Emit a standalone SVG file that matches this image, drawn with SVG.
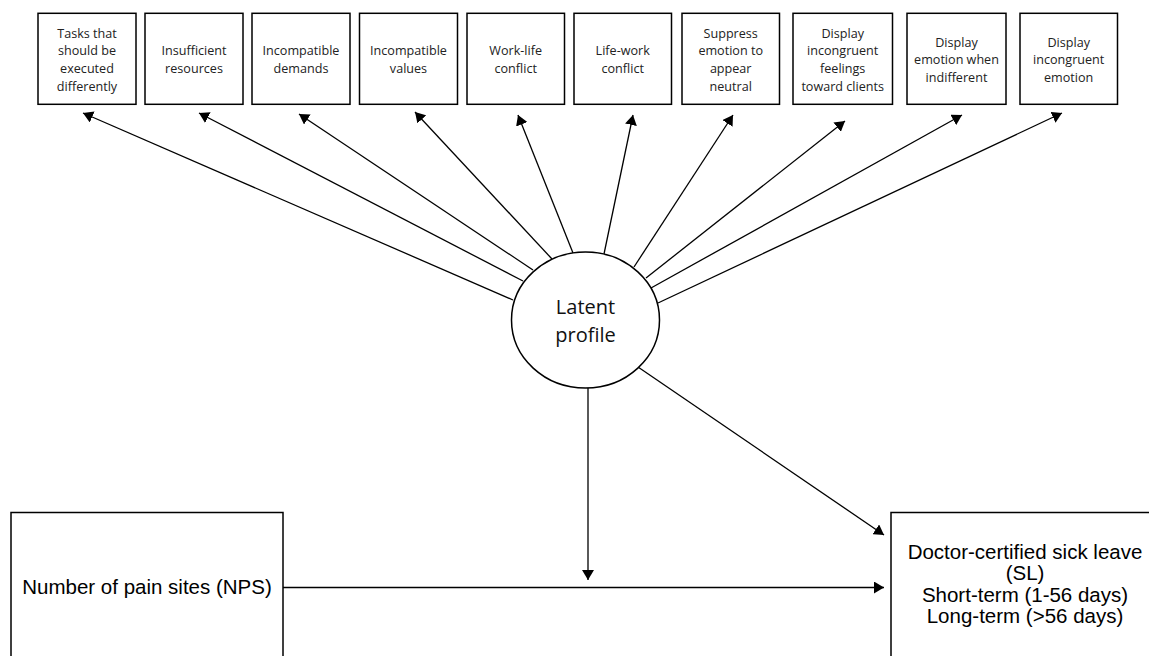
<svg xmlns="http://www.w3.org/2000/svg" width="1149" height="656" viewBox="0 0 1149 656">
<style>
.box{fill:#fff;stroke:#000;stroke-width:1.5}
.t{font-family:"Open Sans","Liberation Sans",sans-serif;font-size:12.6px;fill:#222;text-anchor:middle}
.lp{font-family:"Open Sans","Liberation Sans",sans-serif;font-size:20px;fill:#111;text-anchor:middle}
.bt{font-family:"Liberation Sans",Arial,sans-serif;font-size:20.5px;fill:#000;text-anchor:middle}
.c{stroke:#000;stroke-width:1.3;fill:none;marker-end:url(#ah)}
</style>
<defs>
<marker id="ah" markerUnits="userSpaceOnUse" viewBox="0 0 10 12" markerWidth="10" markerHeight="12" refX="10" refY="6" orient="auto">
<path d="M0,0 L10,6 L0,12 z" fill="#000"/>
</marker>
</defs>
<rect width="1149" height="656" fill="#fff"/>
<g id="connectors">
<line class="c" x1="513" y1="300" x2="83" y2="113"/>
<line class="c" x1="523" y1="281" x2="199" y2="113"/>
<line class="c" x1="533" y1="270" x2="299" y2="114"/>
<line class="c" x1="552" y1="259" x2="415" y2="112"/>
<line class="c" x1="573" y1="253" x2="518" y2="115"/>
<line class="c" x1="604" y1="254" x2="633" y2="115"/>
<line class="c" x1="634" y1="267" x2="733" y2="115"/>
<line class="c" x1="646" y1="278" x2="845" y2="121"/>
<line class="c" x1="651" y1="288" x2="962" y2="115"/>
<line class="c" x1="658" y1="303" x2="1062" y2="113"/>
<line class="c" x1="638" y1="367" x2="884" y2="535"/>
<line class="c" x1="588" y1="388" x2="588" y2="580"/>
<line class="c" x1="283" y1="587.5" x2="884" y2="587.5"/>
</g>
<g id="n1"><rect class="box" x="38" y="13.3" width="98" height="91"/>
<text class="t" x="87" y="37.7">Tasks that</text><text class="t" x="87" y="55.3">should be</text><text class="t" x="87" y="72.9">executed</text><text class="t" x="87" y="90.5">differently</text></g>
<g id="n2"><rect class="box" x="145" y="13.3" width="98" height="91"/>
<text class="t" x="194" y="55.3">Insufficient</text><text class="t" x="194" y="72.9">resources</text></g>
<g id="n3"><rect class="box" x="252" y="13.3" width="98" height="91"/>
<text class="t" x="301" y="55.3">Incompatible</text><text class="t" x="301" y="72.9">demands</text></g>
<g id="n4"><rect class="box" x="359.5" y="13.3" width="98" height="91"/>
<text class="t" x="408.5" y="55.3">Incompatible</text><text class="t" x="408.5" y="72.9">values</text></g>
<g id="n5"><rect class="box" x="467" y="13.3" width="97.5" height="91"/>
<text class="t" x="515.7" y="55.3">Work-life</text><text class="t" x="515.7" y="72.9">conflict</text></g>
<g id="n6"><rect class="box" x="574" y="13.3" width="97.5" height="91"/>
<text class="t" x="622.7" y="55.3">Life-work</text><text class="t" x="622.7" y="72.9">conflict</text></g>
<g id="n7"><rect class="box" x="682" y="13.3" width="97.5" height="91"/>
<text class="t" x="730.7" y="37.7">Suppress</text><text class="t" x="730.7" y="55.3">emotion to</text><text class="t" x="730.7" y="72.9">appear</text><text class="t" x="730.7" y="90.5">neutral</text></g>
<g id="n8"><rect class="box" x="793" y="13.3" width="99.5" height="91"/>
<text class="t" x="842.7" y="37.7">Display</text><text class="t" x="842.7" y="55.3">incongruent</text><text class="t" x="842.7" y="72.9">feelings</text><text class="t" x="842.7" y="90.5">toward clients</text></g>
<g id="n9"><rect class="box" x="907" y="13.3" width="99" height="91"/>
<text class="t" x="956.5" y="46.5">Display</text><text class="t" x="956.5" y="64.1">emotion when</text><text class="t" x="956.5" y="81.7">indifferent</text></g>
<g id="n10"><rect class="box" x="1020" y="13.3" width="97.5" height="91"/>
<text class="t" x="1068.7" y="46.5">Display</text><text class="t" x="1068.7" y="64.1">incongruent</text><text class="t" x="1068.7" y="81.7">emotion</text></g>
<g id="latent"><ellipse class="box" cx="585.5" cy="320" rx="74" ry="68"/>
<text class="lp" x="585.5" y="314">Latent</text><text class="lp" x="585.5" y="341.7">profile</text></g>
<g id="nps"><rect class="box" x="11" y="512.5" width="272" height="150"/>
<text class="bt" x="147" y="594.3">Number of pain sites (NPS)</text></g>
<g id="sl"><rect class="box" x="891" y="512.5" width="270" height="150"/>
<text class="bt" x="1025" y="558.7">Doctor-certified sick leave</text><text class="bt" x="1025" y="580.2">(SL)</text><text class="bt" x="1025" y="601.7">Short-term (1-56 days)</text><text class="bt" x="1025" y="623.2">Long-term (&gt;56 days)</text></g>
</svg>
